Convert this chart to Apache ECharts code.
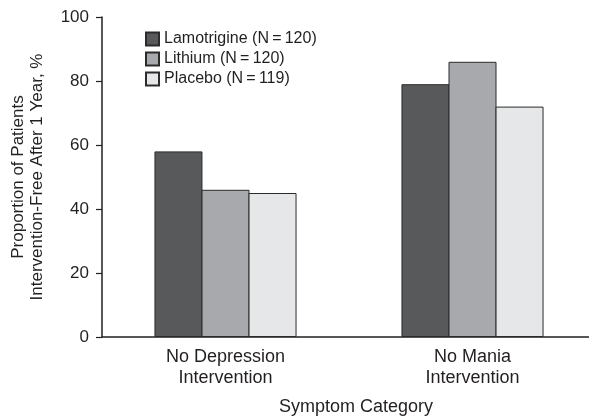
<!DOCTYPE html>
<html><head><meta charset="utf-8">
<script src="https://cdn.jsdelivr.net/npm/echarts@6/dist/echarts.min.js"></script>
<style>html,body{margin:0;padding:0;background:#fff}#c{width:589px;height:419px}</style>
</head><body><div id="c"></div>
<script>
const categories = ['No Depression\nIntervention', 'No Mania\nIntervention'];
const lamotrigine = [58, 79];
const lithium = [46, 86];
const placebo = [45, 72];
const seriesNames = ['Lamotrigine (N\u2009=\u2009120)', 'Lithium (N\u2009=\u2009120)', 'Placebo (N\u2009=\u2009119)'];
const yTicks = [0, 20, 40, 60, 80, 100];

const ink = '#231f20';
const font = '"Liberation Sans", Arial, sans-serif';
const colors = ['#58595b', '#a7a9ac', '#e6e7e8'];
const chart = echarts.init(document.getElementById('c'));
const mk = (name, data, i) => ({
  name, type: 'bar', data, barGap: '-2%', barWidth: 48,
  itemStyle: { color: colors[i], borderColor: '#2b2b2b', borderWidth: 1 }
});
chart.setOption({
  animation: false,
  textStyle: { fontFamily: font, color: ink },
  grid: { left: 102, top: 17, width: 494, height: 320, containLabel: false, outerBoundsMode: 'none' },
  legend: {
    orient: 'vertical', left: 140, top: 26, itemGap: 4, itemWidth: 13, itemHeight: 13, icon: 'rect',
    textStyle: { fontSize: 16, color: ink, fontFamily: font },
    data: seriesNames
  },
  xAxis: {
    type: 'category', data: categories,
    axisLine: { lineStyle: { color: ink, width: 1.5 } },
    axisTick: { show: false },
    axisLabel: { fontSize: 18, color: ink, lineHeight: 21, margin: 10, fontFamily: font }
  },
  yAxis: {
    type: 'value', min: 0, max: 100, interval: 20,
    name: 'Proportion of Patients\nIntervention-Free After 1 Year, %',
    nameLocation: 'middle', nameGap: 55,
    nameTextStyle: { fontSize: 17, color: ink, lineHeight: 19, fontFamily: font },
    splitLine: { show: false },
    axisLine: { show: true, lineStyle: { color: ink, width: 1.5 } },
    axisTick: { show: true, length: 6, lineStyle: { color: ink, width: 1.2 } },
    axisLabel: { fontSize: 17, color: ink, margin: 13, fontFamily: font,
      formatter: v => yTicks.includes(v) ? String(v) : '' }
  },
  graphic: [{
    type: 'text', x: 356, y: 398,
    style: { text: 'Symptom Category', fontSize: 18, fill: ink, font: '18px "Liberation Sans", Arial, sans-serif', textAlign: 'center' }
  }],
  series: [mk(seriesNames[0], lamotrigine, 0), mk(seriesNames[1], lithium, 1), mk(seriesNames[2], placebo, 2)]
});
</script></body></html>
